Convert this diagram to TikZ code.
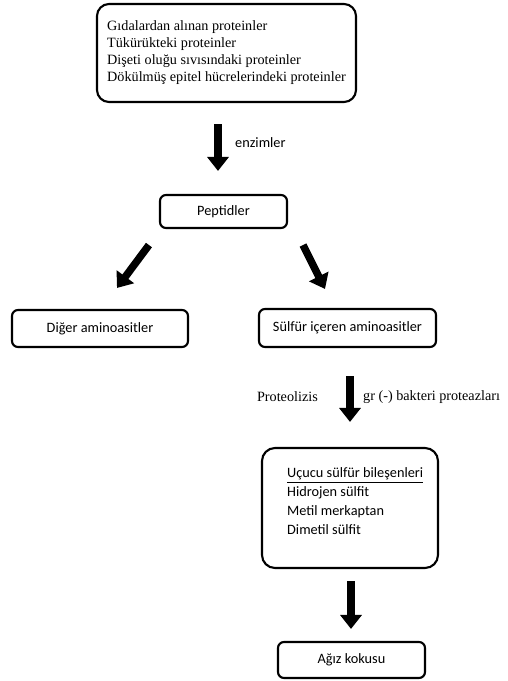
\documentclass[tikz,border=0pt]{standalone}
\usepackage{fontspec}
\setmainfont{Liberation Serif}
\newfontfamily\calfont{Carlito}
\usetikzlibrary{arrows.meta}
\begin{document}
\begin{tikzpicture}[x=1pt,y=-1pt,
  box/.style={draw, line width=2.1pt, rounded corners=6pt, inner sep=0pt,
    font=\calfont\fontsize{14.3}{17}\selectfont},
  bigarrow/.style={line width=7.5pt, -{Triangle[width=21pt,length=14pt]}},
  serif/.style={font=\fontsize{14.2}{17}\selectfont},
  sans/.style={font=\calfont\fontsize{14.3}{19}\selectfont}]
\useasboundingbox[fill=white] (0,0) rectangle (507,681);
\node[box, rounded corners=12pt, minimum width=259pt, minimum height=98pt, align=left, serif] (top) at (226.5,53)
  {Gıdalardan alınan proteinler\\Tükürükteki proteinler\\Dişeti oluğu sıvısındaki proteinler\\Dökülmüş epitel hücrelerindeki proteinler};
\node[box, minimum width=127pt, minimum height=33pt] (pep) at (223.5,211.5) {Peptidler};
\node[box, minimum width=176pt, minimum height=37pt] (dig) at (100,328.5) {Diğer aminoasitler};
\node[box, minimum width=177pt, minimum height=38pt] (sulf) at (347.5,328) {Sülfür içeren aminoasitler};
\node[box, rounded corners=13pt, minimum width=176pt, minimum height=120pt] (uc) at (350,508) {};
\node[sans, align=left, inner sep=0pt, anchor=west] (uctext) at (287,501.5)
  {\underline{Uçucu sülfür bileşenleri}\\Hidrojen sülfit\\Metil merkaptan\\Dimetil sülfit};
\node[box, minimum width=147pt, minimum height=36pt] (agiz) at (351.5,660) {Ağız kokusu};
\node[sans, anchor=west, inner sep=0pt] (enz) at (235,143) {enzimler};
\node[serif, anchor=east, inner sep=0pt] (prot) at (318,397) {Proteolizis};
\node[serif, anchor=west, inner sep=0pt] (gr) at (363,397) {gr (-) bakteri proteazları};
\draw[bigarrow] ([shift={(-8.5,21)}]top.south) -- ([shift={(-5.5,-23)}]pep.north);
\draw[bigarrow] ([shift={(-10,16)}]pep.south west) -- ([shift={(17,-21)}]dig.north);
\draw[bigarrow] ([shift={(15,16)}]pep.south east) -- ([shift={(-22.5,-19)}]sulf.north);
\draw[bigarrow] ([shift={(2.5,28)}]sulf.south) -- ([shift={(0,-25)}]uc.north);
\draw[bigarrow] ([shift={(1,12)}]uc.south) -- ([shift={(-0.5,-12)}]agiz.north);
\end{tikzpicture}
\end{document}
